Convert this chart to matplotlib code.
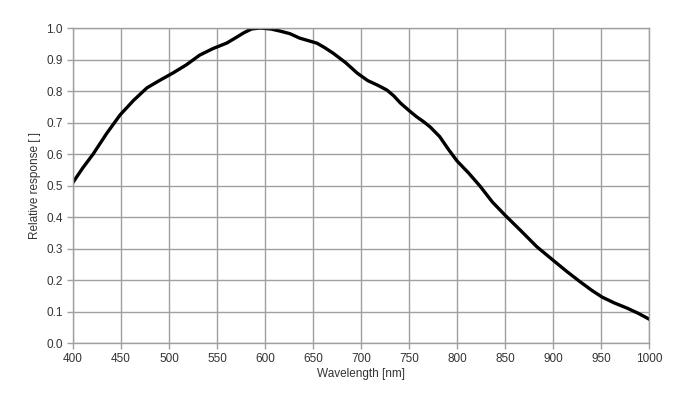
import numpy as np
import matplotlib.pyplot as plt

plt.rcParams['font.family'] = ['Liberation Sans', 'DejaVu Sans']

# valores
wavelength = [400, 410, 421, 435, 449, 463, 477, 491, 504, 518, 532, 546, 560, 570, 578,
              586, 595, 606, 616, 626, 636, 645, 654, 662, 671, 684, 696, 707, 717, 727, 734,
              741, 750, 758, 765, 772, 782, 791, 800, 812, 824, 837, 850, 866, 883, 900,
              914, 928, 940, 951, 964, 977, 989, 1000]
response = [0.51, 0.555, 0.60, 0.665, 0.724, 0.77, 0.81, 0.835, 0.857, 0.883, 0.914, 0.935,
            0.952, 0.97, 0.985, 0.997, 1.0, 0.997, 0.99, 0.982, 0.968, 0.96, 0.952, 0.938,
            0.92, 0.89, 0.857, 0.833, 0.819, 0.803, 0.785, 0.762, 0.738, 0.718, 0.703,
            0.686, 0.655, 0.615, 0.578, 0.54, 0.498, 0.447, 0.406, 0.358, 0.306, 0.263,
            0.228, 0.195, 0.168, 0.146, 0.127, 0.111, 0.094, 0.076]

xticks = np.arange(400, 1001, 50)
yticks = np.round(np.arange(0, 1.01, 0.1), 1)

fig = plt.figure(figsize=(6.9, 3.94), dpi=100)
ax = fig.add_axes([0.1058, 0.1294, 0.8348, 0.7995])

ax.plot(wavelength, response, color="black", linewidth=2.4, solid_joinstyle="round")

ax.set_xlim(400, 1000)
ax.set_ylim(0, 1.0)
ax.set_xticks(xticks)
ax.set_yticks(yticks)
ax.set_yticklabels([f"{v:.1f}" for v in yticks])
ax.grid(True, color="#a0a0a0", linewidth=1.0)
for s in ax.spines.values():
    s.set_color("#a0a0a0")
    s.set_linewidth(1.0)
ax.tick_params(colors="#a0a0a0", labelcolor="#333333", length=4, width=1.0, labelsize=8.5)

ax.set_xlabel("Wavelength [nm]", fontsize=8.5, color="#333333", labelpad=2)
ax.set_ylabel("Relative response [ ]", fontsize=8.5, color="#333333", labelpad=4)

plt.savefig("out.png", dpi=100)
